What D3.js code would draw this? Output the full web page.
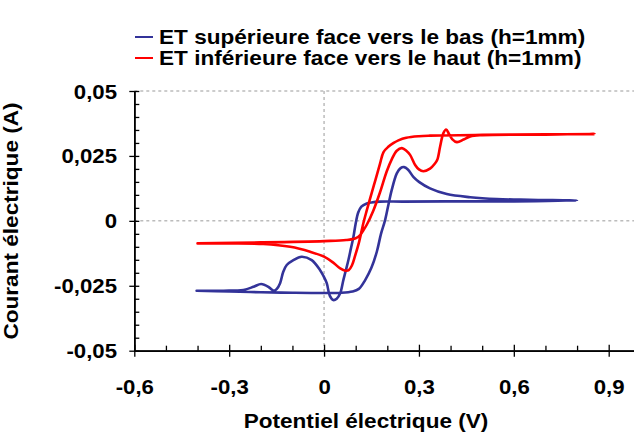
<!DOCTYPE html>
<html>
<head>
<meta charset="utf-8">
<title>Voltammogramme</title>
<script src="https://cdn.jsdelivr.net/npm/d3@7"></script>
<style>
  body { margin: 0; background: #fff; }
  svg text { font-family: "Liberation Sans", Arial, sans-serif; font-weight: bold; font-size: 20px; fill: #000; }
  .axis path, .axis line { stroke: #000; stroke-width: 1.3px; }
  .grid { stroke: #999; stroke-width: 1px; stroke-dasharray: 3,3; fill: none; }
  .curve { fill: none; stroke-width: 2.6px; stroke-linejoin: round; stroke-linecap: round; }
</style>
</head>
<body>
<script>
// ET superieure face vers le bas : balayage aller puis retour
const blueV = [-0.403, -0.3, -0.2, -0.1, 0, 0.05, 0.09, 0.11, 0.13, 0.15, 0.167, 0.18, 0.193, 0.204, 0.214, 0.23, 0.242, 0.253, 0.265, 0.283, 0.3, 0.335, 0.388, 0.462, 0.546, 0.65, 0.8,
  0.6, 0.4, 0.25, 0.177, 0.15, 0.135, 0.118, 0.108, 0.1, 0.093, 0.085, 0.077, 0.069, 0.061, 0.051, 0.04, 0.029, 0.018, 0.0085, -0.002, -0.013, -0.039, -0.071, -0.097, -0.118, -0.129, -0.139, -0.15, -0.158, -0.168, -0.176, -0.199, -0.223, -0.255, -0.318, -0.403];
const blueI = [-0.0269, -0.0272, -0.0275, -0.0277, -0.0278, -0.0277, -0.0272, -0.0262, -0.0228, -0.018, -0.0118, -0.005, 0.0003, 0.0065, 0.0119, 0.0183, 0.0203, 0.0207, 0.0198, 0.0168, 0.015, 0.0125, 0.0103, 0.0091, 0.0084, 0.0081, 0.0078,
  0.0075, 0.0075, 0.0074, 0.0074, 0.0071, 0.0067, 0.0055, 0.0032, -0.001, -0.0061, -0.0106, -0.0151, -0.019, -0.0228, -0.0279, -0.03, -0.0305, -0.0288, -0.024, -0.0212, -0.0189, -0.0151, -0.0138, -0.0151, -0.017, -0.0196, -0.024, -0.0263, -0.0269, -0.0262, -0.0254, -0.0243, -0.0254, -0.0266, -0.0269, -0.0269];

// ET inferieure face vers le haut
const redV = [-0.4, -0.2, 0, 0.07, 0.1, 0.114, 0.124, 0.135, 0.156, 0.177, 0.198, 0.214, 0.23, 0.246, 0.26, 0.272, 0.288, 0.3, 0.314, 0.335, 0.35, 0.358, 0.367, 0.377, 0.386, 0.395, 0.405, 0.42, 0.441, 0.462, 0.5, 0.7, 0.855,
  0.7, 0.5, 0.335, 0.3, 0.26, 0.235, 0.22, 0.203, 0.188, 0.177, 0.163, 0.15, 0.135, 0.124, 0.11, 0.098, 0.088, 0.078, 0.068, 0.051, 0.029, 0, -0.044, -0.107, -0.192, -0.3, -0.4];
const redI = [-0.0086, -0.0083, -0.0078, -0.0074, -0.0067, -0.0055, -0.0037, -0.0015, 0.004, 0.011, 0.019, 0.0237, 0.027, 0.028, 0.027, 0.0254, 0.0215, 0.0198, 0.0191, 0.0201, 0.022, 0.0235, 0.0286, 0.0337, 0.0352, 0.0335, 0.0315, 0.0303, 0.0313, 0.0325, 0.033, 0.0332, 0.0334,
  0.0333, 0.0331, 0.0328, 0.0326, 0.032, 0.031, 0.03, 0.0285, 0.0265, 0.022, 0.016, 0.0105, 0.004, -0.001, -0.0085, -0.0135, -0.0172, -0.019, -0.0192, -0.0183, -0.0161, -0.0138, -0.0119, -0.01, -0.0089, -0.0087, -0.0087];

const seriesNames = ["ET supérieure face vers le bas (h=1mm)", "ET inférieure face vers le haut (h=1mm)"];
const seriesColors = ["#333399", "#ff0000"];

const xTicks = [-0.6, -0.3, 0, 0.3, 0.6, 0.9];
const xTickLabels = ["-0,6", "-0,3", "0", "0,3", "0,6", "0,9"];
const yTicks = [-0.05, -0.025, 0, 0.025, 0.05];
const yTickLabels = ["-0,05", "-0,025", "0", "0,025", "0,05"];

const W = 634, H = 433, SX = 1.11, SXT = 1.13;

const svg = d3.select("body").append("svg").attr("width", W).attr("height", H);

const x = d3.scaleLinear().domain([-0.6, 0.98]).range([134.3, 634]);
const y = d3.scaleLinear().domain([-0.05, 0.05]).range([350.7, 91]);

// pointilles : bord haut, x=0, y=0
svg.append("line").attr("class", "grid")
  .attr("x1", x(-0.6)).attr("x2", W).attr("y1", y(0.05)).attr("y2", y(0.05));
svg.append("line").attr("class", "grid")
  .attr("x1", x(-0.6)).attr("x2", W).attr("y1", y(0)).attr("y2", y(0));
svg.append("line").attr("class", "grid")
  .attr("x1", x(0)).attr("x2", x(0)).attr("y1", y(0.05)).attr("y2", y(-0.05));

const xMinor = d3.range(-6, 10).map(d => d / 10).filter(d => Math.abs(d * 10) % 3 !== 0);
const yMinor = d3.range(-10, 11).map(d => d * 0.005).filter(d => Math.round(d * 1000) % 25 !== 0);

// axe X
svg.append("g").attr("class", "axis")
  .attr("transform", `translate(0,${y(-0.05)})`)
  .call(d3.axisBottom(x).tickValues(xMinor).tickSize(-5).tickSizeOuter(0).tickFormat(""));
svg.append("g").attr("class", "axis")
  .attr("transform", `translate(0,${y(-0.05)})`)
  .call(d3.axisBottom(x).tickValues(xTicks).tickSize(-6).tickSizeOuter(0).tickFormat(""));
const gx = svg.append("g").attr("class", "axis")
  .attr("transform", `translate(0,${y(-0.05)})`)
  .call(d3.axisBottom(x).tickValues(xTicks).tickSize(6).tickSizeOuter(0)
    .tickFormat((d, i) => xTickLabels[i]));
gx.selectAll("text").attr("y", 43).attr("dy", null)
  .attr("transform", `scale(${SX},1)`);

// axe Y
svg.append("g").attr("class", "axis")
  .attr("transform", `translate(${x(-0.6)},0)`)
  .call(d3.axisLeft(y).tickValues(yMinor).tickSize(-5).tickSizeOuter(0).tickFormat(""));
svg.append("g").attr("class", "axis")
  .attr("transform", `translate(${x(-0.6)},0)`)
  .call(d3.axisLeft(y).tickValues(yTicks).tickSize(-5).tickSizeOuter(0).tickFormat(""));
const gy = svg.append("g").attr("class", "axis")
  .attr("transform", `translate(${x(-0.6)},0)`)
  .call(d3.axisLeft(y).tickValues(yTicks).tickSize(5).tickSizeOuter(0)
    .tickFormat((d, i) => yTickLabels[i]));
gy.selectAll("text").attr("x", -17.3 / SX).attr("dy", "0.35em")
  .attr("transform", `scale(${SX},1)`);

svg.selectAll(".axis .domain").attr("stroke", "#000");

// courbes
const line = d3.line()
  .x(d => x(d[0]))
  .y(d => y(d[1]))
  .curve(d3.curveCatmullRom.alpha(0.5));

const series = [
  d3.zip(blueV, blueI),
  d3.zip(redV, redI)
];

svg.selectAll(".curve")
  .data(series)
  .enter()
  .append("path")
  .attr("class", "curve")
  .attr("stroke", (d, i) => seriesColors[i])
  .attr("d", line);

// titres des axes
svg.append("text")
  .attr("text-anchor", "middle")
  .attr("transform", `translate(366,428) scale(${SXT},1)`)
  .text("Potentiel électrique (V)");

svg.append("text")
  .attr("text-anchor", "middle")
  .attr("transform", `translate(18,221) rotate(-90) scale(${SXT},1)`)
  .text("Courant électrique (A)");

// legende
const legend = svg.append("g").attr("transform", "translate(135,37)");
const item = legend.selectAll("g")
  .data(seriesNames)
  .enter()
  .append("g")
  .attr("transform", (d, i) => `translate(0,${i * 21})`);
item.append("line")
  .attr("x1", 0).attr("x2", 18)
  .attr("stroke", (d, i) => seriesColors[i])
  .attr("stroke-width", 2);
item.append("text")
  .attr("transform", `translate(24,7) scale(${SXT},1)`)
  .text(d => d);
</script>
</body>
</html>
